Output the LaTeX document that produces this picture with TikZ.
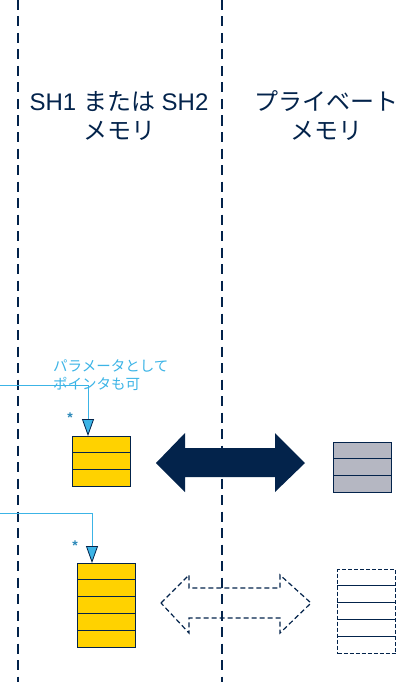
\documentclass[tikz,border=0pt]{standalone}
\usepackage{fontspec}
\setmainfont{Liberation Sans}
\newfontfamily\jp{Noto Sans CJK JP}
\usetikzlibrary{arrows.meta}
\definecolor{navy}{HTML}{03234B}
\definecolor{stblue}{HTML}{3CB4E6}
\definecolor{styellow}{HTML}{FFD200}
\definecolor{stgray}{HTML}{B5B7C2}
\begin{document}
\begin{tikzpicture}[x=1pt,y=-1pt,
  divider/.style={draw=navy,line width=2.8pt,dash pattern=on 10pt off 6.5pt},
  heading/.style={text=navy,font=\fontsize{24}{29}\selectfont,align=center},
  note/.style={text=stblue,font=\jp\fontsize{14.5}{18}\selectfont,align=left,anchor=north west},
  star/.style={text=stblue!70!navy,font=\fontsize{14}{14}\selectfont\bfseries},
  ptr/.style={draw=stblue,line width=1pt,-{Triangle[length=17pt,width=12pt,color=navy,fill=stblue,line width=0.8pt]}},
  cellline/.style={draw=navy,line width=1pt},
  memyellow/.style={draw=navy,fill=styellow,line width=1pt,inner sep=0pt,minimum width=58pt},
  memgray/.style={draw=navy,fill=stgray,line width=1pt,inner sep=0pt,minimum width=58pt},
  memdash/.style={draw=navy,line width=1pt,dash pattern=on 4pt off 2pt,inner sep=0pt,minimum width=58pt}
]
\useasboundingbox (0,0) rectangle (398,682);
% dividers
\draw[divider] (18,0) -- (18,682);
\draw[divider] (222,0) -- (222,682);
% headings
\node[heading] (h1) at (119,116) {SH1 {\jp または} SH2\\{\jp メモリ}};
\node[heading] (h2) at (326,116) {{\jp プライベート}\\{\jp メモリ}};
% note
\node[note,inner sep=0pt] (n1) at (53,359) {パラメータとして\\ポインタも可};
% yellow box 1
\node[memyellow,minimum height=50pt,anchor=north west] (y1) at (72,436) {};
\draw[cellline] ([yshift=-16.7pt]y1.north west) -- ([yshift=-16.7pt]y1.north east);
\draw[cellline] ([yshift=-33.3pt]y1.north west) -- ([yshift=-33.3pt]y1.north east);
% yellow box 2
\node[memyellow,minimum height=84pt,anchor=north west] (y2) at (77,563) {};
\foreach \k in {1,2,3,4}{\draw[cellline] ([yshift=-\k*16.8pt]y2.north west) -- ([yshift=-\k*16.8pt]y2.north east);}
% gray box
\node[memgray,minimum height=50pt,anchor=north west] (g1) at (333,442) {};
\draw[cellline] ([yshift=-16.7pt]g1.north west) -- ([yshift=-16.7pt]g1.north east);
\draw[cellline] ([yshift=-33.3pt]g1.north west) -- ([yshift=-33.3pt]g1.north east);
% dashed box
\node[memdash,minimum height=84pt,anchor=north west] (d1) at (337,569) {};
\foreach \k in {1,2,3,4}{\draw[cellline] ([yshift=-\k*16.8pt]d1.north west) -- ([yshift=-\k*16.8pt]d1.north east);}
% pointers
\coordinate (p1) at (0,385);
\coordinate (p2) at (0,513);
\draw[ptr] (p1) -| (y1.north -| 88,0);
\draw[ptr] (p2) -| (y2.north -| 92,0);
\node[star] (s1) at (70,418) {*};
\node[star] (s2) at (75,546) {*};
% solid double arrow
\fill[navy] (156,463) -- (185,433) -- (185,448) -- (275,448) -- (275,433) -- (305,463)
  -- (275,492) -- (275,477) -- (185,477) -- (185,492) -- cycle;
% dashed double arrow
\draw[navy,line width=1.2pt,dash pattern=on 5pt off 3pt] (161,603) -- (189,575) -- (189,588) -- (280,588) -- (280,575) -- (311,603)
  -- (280,633) -- (280,618) -- (189,618) -- (189,633) -- cycle;
\end{tikzpicture}
\end{document}
